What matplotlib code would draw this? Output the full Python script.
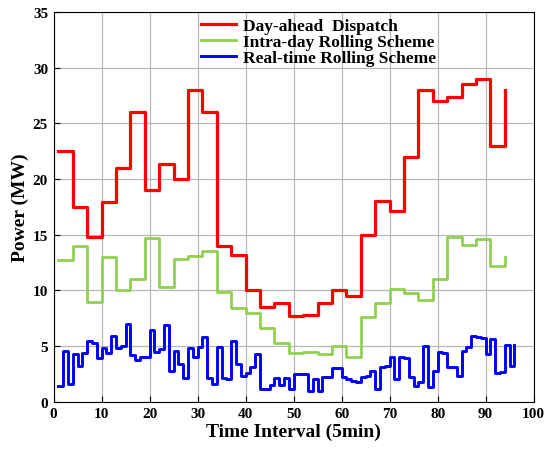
import matplotlib
matplotlib.use("Agg")
import matplotlib.pyplot as plt

plt.rcParams['font.family'] = ['Liberation Serif', 'DejaVu Serif']
plt.rcParams['font.weight'] = 'bold'

# time slots (5 min intervals); schedules below 15 min resolution
slots_15min = list(range(1, 95, 3))
slots_5min = list(range(1, 97))

day_ahead = [22.5, 17.5, 14.8, 17.9, 21.0, 26.0, 19.0, 21.4, 20.0, 28.0, 26.0,
             14.0, 13.2, 10.0, 8.5, 8.9, 7.7, 7.8, 8.9, 10.0, 9.5, 15.0, 18.0,
             17.1, 22.0, 28.0, 27.0, 27.4, 28.5, 29.0, 23.0, 28.0]

intra_day = [12.7, 14.0, 9.0, 13.0, 10.0, 11.0, 14.7, 10.3, 12.8, 13.1, 13.5,
             9.9, 8.4, 8.0, 6.6, 5.3, 4.35, 4.5, 4.3, 5.0, 4.0, 7.6, 8.9, 10.1,
             9.8, 9.1, 11.0, 14.8, 14.1, 14.6, 12.2, 13.0]

real_time = [1.4, 4.6, 1.6, 4.3, 3.2, 4.35, 5.5, 5.3, 3.9, 4.8, 4.4, 5.9, 4.8,
             5.0, 7.0, 4.2, 3.75, 4.0, 4.0, 6.4, 4.5, 4.7, 6.9, 2.8, 4.6, 3.4,
             2.1, 4.8, 4.0, 4.9, 5.8, 2.1, 1.6, 4.9, 2.1, 2.0, 5.5, 3.4, 2.3,
             2.55, 3.1, 4.3, 1.15, 1.15, 1.5, 2.1, 1.5, 2.1, 1.15, 2.5, 2.5,
             2.5, 1.0, 2.0, 1.0, 2.2, 2.2, 3.0, 3.0, 2.2, 2.0, 1.9, 1.8, 2.2,
             2.3, 2.8, 1.1, 3.1, 3.2, 4.0, 2.0, 4.0, 3.9, 2.2, 1.4, 1.75, 5.0,
             1.3, 2.8, 4.5, 4.4, 3.1, 3.1, 2.3, 4.6, 4.9, 5.9, 5.85, 5.7, 4.3,
             5.6, 2.6, 2.7, 5.1, 3.2, 5.1]

fig = plt.figure(figsize=(5.5, 4.52), dpi=100)
ax = fig.add_axes([0.0976, 0.109, 0.8727, 0.862])

ax.plot(slots_15min, day_ahead, drawstyle='steps-post', color='#ff0000',
        lw=2.3, label='Day-ahead  Dispatch')
ax.plot(slots_15min, intra_day, drawstyle='steps-post', color='#92d050',
        lw=2.0, label='Intra-day Rolling Scheme')
ax.plot(slots_5min, real_time, drawstyle='steps-post', color='#0000ff',
        lw=2.1, label='Real-time Rolling Scheme')

ax.set_xlim(0, 100)
ax.set_ylim(0, 35)
ax.set_xticks(range(0, 101, 10))
ax.set_yticks(range(0, 36, 5))
ax.grid(True, color='#b8b8b8', lw=0.9)
ax.set_axisbelow(True)
ax.tick_params(direction='in', length=4, labelsize=11, pad=4)
for lab in ax.get_xticklabels() + ax.get_yticklabels():
    lab.set_fontweight('bold')

ax.set_xlabel('Time Interval (5min)', fontsize=14, fontweight='bold', labelpad=2)
ax.set_ylabel('Power (MW)', fontsize=14, fontweight='bold', labelpad=3)

leg = ax.legend(loc='upper left', bbox_to_anchor=(0.285, 1.012), frameon=False,
                fontsize=12.5, handlelength=2.0, handletextpad=0.45,
                labelspacing=0.0, borderaxespad=0.2)
for t in leg.get_texts():
    t.set_fontweight('bold')

fig.savefig('out.png', dpi=100)
